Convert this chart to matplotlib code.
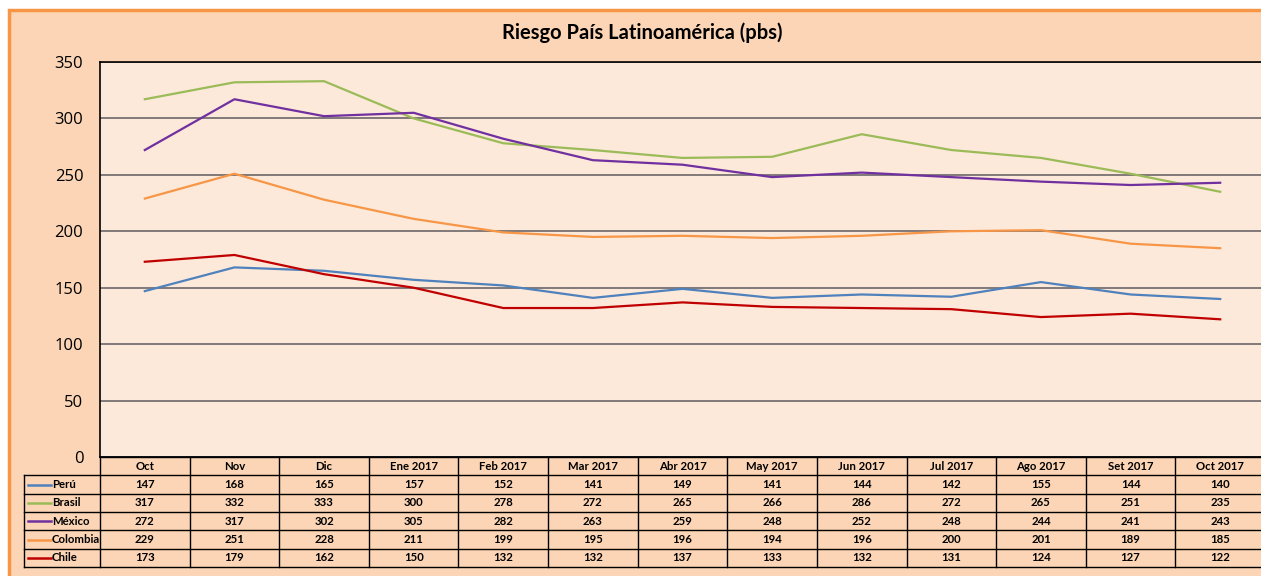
import matplotlib
matplotlib.use("Agg")
import matplotlib.pyplot as plt
from matplotlib.patches import Rectangle
import numpy as np

plt.rcParams['font.family'] = ['Lato', 'DejaVu Sans']

months = ["Oct", "Nov", "Dic", "Ene 2017", "Feb 2017", "Mar 2017", "Abr 2017",
          "May 2017", "Jun 2017", "Jul 2017", "Ago 2017", "Set 2017", "Oct 2017"]
countries = ["Perú", "Brasil", "México", "Colombia", "Chile"]
peru = [147, 168, 165, 157, 152, 141, 149, 141, 144, 142, 155, 144, 140]
brasil = [317, 332, 333, 300, 278, 272, 265, 266, 286, 272, 265, 251, 235]
mexico = [272, 317, 302, 305, 282, 263, 259, 248, 252, 248, 244, 241, 243]
colombia = [229, 251, 228, 211, 199, 195, 196, 194, 196, 200, 201, 189, 185]
chile = [173, 179, 162, 150, 132, 132, 137, 133, 132, 131, 124, 127, 122]
yticks = [0, 50, 100, 150, 200, 250, 300, 350]

series = [peru, brasil, mexico, colombia, chile]
colors = ["#4F81BD", "#9BBB59", "#7030A0", "#F79646", "#C00000"]

W, H = 1261, 576
fig = plt.figure(figsize=(W / 100, H / 100), dpi=100)
fig.patch.set_facecolor("white")

# outer chart frame
fig.patches.append(Rectangle((9 / W, -0.05), 1.1, 1 - 10 / H + 0.05,
                             transform=fig.transFigure, facecolor="#FBD5B5",
                             edgecolor="#F79646", linewidth=2.5, zorder=-10))

# plot area (pixel layout)
px_left, px_right, px_top, px_bot = 100, 1265, 62, 457
ax = fig.add_axes([px_left / W, 1 - px_bot / H, (px_right - px_left) / W, (px_bot - px_top) / H])
ax.set_facecolor("#FDE9D9")
x = np.arange(len(months))
for vals, c in zip(series, colors):
    ax.plot(x, vals, color=c, linewidth=1.6, zorder=3)
ax.set_xlim(-0.5, len(months) - 0.5)
ax.set_ylim(0, 350)
ax.set_yticks(yticks)
ax.set_xticks([])
ax.tick_params(axis="y", length=0, pad=12, labelsize=12)
for t in ax.get_yticklabels():
    t.set_fontfamily(['Open Sans', 'DejaVu Sans'])
ax.yaxis.grid(True, color="#767171", linewidth=1.3)
ax.set_axisbelow(True)
for s in ["left", "top", "bottom"]:
    ax.spines[s].set_color("black")
    ax.spines[s].set_linewidth(1.2)
ax.spines["right"].set_visible(False)

fig.text(642 / W, 1 - 33 / H, "Riesgo País Latinoamérica (pbs)", ha="center", va="center",
         fontsize=14.5, fontweight="bold", color="black")

# data table below the plot
col_w = (px_right - px_left) / len(months)
leg_left = 24
x0 = -0.5 - (px_left - leg_left) / col_w
tbl_bot = 567
tax = fig.add_axes([leg_left / W, 1 - tbl_bot / H, (px_right - leg_left) / W, (tbl_bot - px_bot) / H])
tax.set_xlim(x0, len(months) - 0.5)
nrows = len(countries) + 1
tax.set_ylim(nrows, 0)
tax.axis("off")
tax.patch.set_alpha(0)

lw = 1.0
xe = len(months) - 0.5
tax.plot([-0.5, xe], [0, 0], color="black", lw=lw, clip_on=False)
for r in range(1, nrows + 1):
    tax.plot([x0, xe], [r, r], color="black", lw=lw, clip_on=False)
for k in range(len(months) + 1):
    tax.plot([-0.5 + k, -0.5 + k], [0, nrows], color="black", lw=lw, clip_on=False)
tax.plot([x0, x0], [1, nrows], color="black", lw=lw, clip_on=False)

fs = 8.2
for i, m in enumerate(months):
    tax.text(i, 0.5, m, ha="center", va="center", fontsize=fs, fontweight="bold")
for r, (name, vals, c) in enumerate(zip(countries, series, colors), start=1):
    tax.plot([x0 + 0.04, x0 + 0.3], [r + 0.5, r + 0.5], color=c, lw=1.8, clip_on=False)
    tax.text(x0 + 0.31, r + 0.5, name, ha="left", va="center", fontsize=fs, fontweight="bold")
    for i, v in enumerate(vals):
        tax.text(i, r + 0.5, str(v), ha="center", va="center", fontsize=fs, fontweight="bold")

fig.savefig("out.png", dpi=100, facecolor=fig.get_facecolor())
